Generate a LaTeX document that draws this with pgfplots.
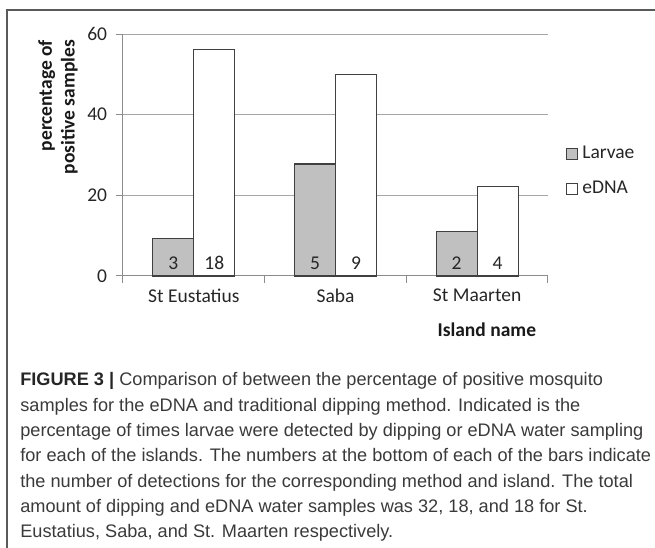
\documentclass[border=0pt]{standalone}
\usepackage{pgfplots}
\pgfplotsset{compat=1.18}
\usepackage{fontspec}
\setmainfont{Carlito}
\newfontfamily\capfont{Liberation Sans}
\definecolor{framec}{HTML}{5A5A5A}
\definecolor{gridc}{HTML}{A6A6A6}
\definecolor{axc}{HTML}{8C8C8C}
\definecolor{barc}{HTML}{404040}
\definecolor{larvae}{HTML}{C0C0C0}
\definecolor{captxt}{HTML}{3A3A3A}
\pgfplotstableread{
x y n
0 9.375 3
1 27.78 5
2 11.11 2
}\larvaedata
\pgfplotstableread{
x y n
0 56.25 18
1 50.00 9
2 22.22 4
}\ednadata
\newcommand{\PX}[2]{({#1*0.6pt},{-#2*0.6pt})}
\begin{document}
\begin{tikzpicture}
\path[use as bounding box] \PX{0}{0} rectangle \PX{655}{548};
\draw[framec, line width=0.7pt] \PX{655}{10} -- \PX{7}{10} -- \PX{7}{548};
\begin{axis}[
  at={(73.8pt,-165.6pt)}, anchor=south west,
  scale only axis, width=255pt, height=145.2pt,
  ybar=0pt, bar width=24.6pt,
  xmin=-0.5, xmax=2.5, ymin=0, ymax=60,
  axis x line*=bottom, axis y line*=left,
  axis line style={-, draw=axc, line width=0.6pt},
  ymajorgrids, grid style={gridc, line width=0.6pt},
  ytick={0,20,40,60},
  tick align=outside,
  ytick style={draw=axc, line width=0.6pt},
  major tick length=4pt,
  xtick={0,1,2}, xticklabels={St Eustatius, Saba, St Maarten},
  xtick style={draw=none},
  extra x ticks={-0.5,0.5,1.5,2.5}, extra x tick labels={},
  extra x tick style={grid=none, xtick style={draw=axc, line width=0.6pt}},
  /pgf/number format/assume math mode=true,
  tick label style={font=\fontsize{11.7pt}{14pt}\selectfont, text=black!85},
  yticklabel style={xshift=-2pt},
  xlabel={Island name},
  xlabel style={at={(axis description cs:0.856,0)}, anchor=base, yshift=-36.6pt,
     font=\fontsize{11.7pt}{14pt}\selectfont\bfseries, text=black!90},
  ylabel={percentage of\\positive samples},
  ylabel style={at={(axis description cs:-0.153,1)}, anchor=east, align=right,
     font=\fontsize{11.7pt}{13.6pt}\selectfont\bfseries, text=black!90},
  legend style={at={(1.042,0.432)}, anchor=west, draw=none, fill=none,
     inner sep=0pt, row sep=8pt, font=\fontsize{11.7pt}{14pt}\selectfont,
     text=black!85, cells={anchor=west}},
  nodes near coords,
  point meta=explicit symbolic,
  visualization depends on={rawy \as \rawy},
  every node near coord/.append style={anchor=base, yshift={-\rawy*2.42pt+3.6pt},
     font=\fontsize{11.7pt}{14pt}\selectfont, text=black!85},
  clip=false,
]
\addplot[fill=larvae, draw=barc, line width=0.7pt,
  legend image code/.code={\draw[fill=larvae, draw=barc, line width=0.6pt] (0pt,-3.3pt) rectangle (6.6pt,3.3pt); \path[draw=none, fill=none] (7.4pt,0pt);}]
  table[x=x, y=y, meta=n] {\larvaedata};
\addplot[fill=white, draw=barc, line width=0.7pt,
  legend image code/.code={\draw[fill=white, draw=barc, line width=0.6pt] (0pt,-3.3pt) rectangle (6.6pt,3.3pt); \path[draw=none, fill=none] (7.4pt,0pt);}]
  table[x=x, y=y, meta=n] {\ednadata};
\legend{Larvae, eDNA}
\end{axis}
\begin{scope}[font=\capfont\fontsize{10.9pt}{12pt}\selectfont, text=captxt]
\node[anchor=base west, inner sep=0pt] at \PX{20}{386} {\textbf{\color{black!85}FIGURE 3 |} Comparison of between the percentage of positive mosquito};
\node[anchor=base west, inner sep=0pt] at \PX{20}{411.3} {samples for the eDNA and traditional dipping method. Indicated is the};
\node[anchor=base west, inner sep=0pt] at \PX{20}{436.6} {percentage of times larvae were detected by dipping or eDNA water sampling};
\node[anchor=base west, inner sep=0pt] at \PX{20}{461.9} {for each of the islands. The numbers at the bottom of each of the bars indicate};
\node[anchor=base west, inner sep=0pt] at \PX{20}{487.2} {the number of detections for the corresponding method and island. The total};
\node[anchor=base west, inner sep=0pt] at \PX{20}{512.5} {amount of dipping and eDNA water samples was 32, 18, and 18 for St.};
\node[anchor=base west, inner sep=0pt] at \PX{20}{537.8} {Eustatius, Saba, and St. Maarten respectively.};
\end{scope}
\end{tikzpicture}
\end{document}
